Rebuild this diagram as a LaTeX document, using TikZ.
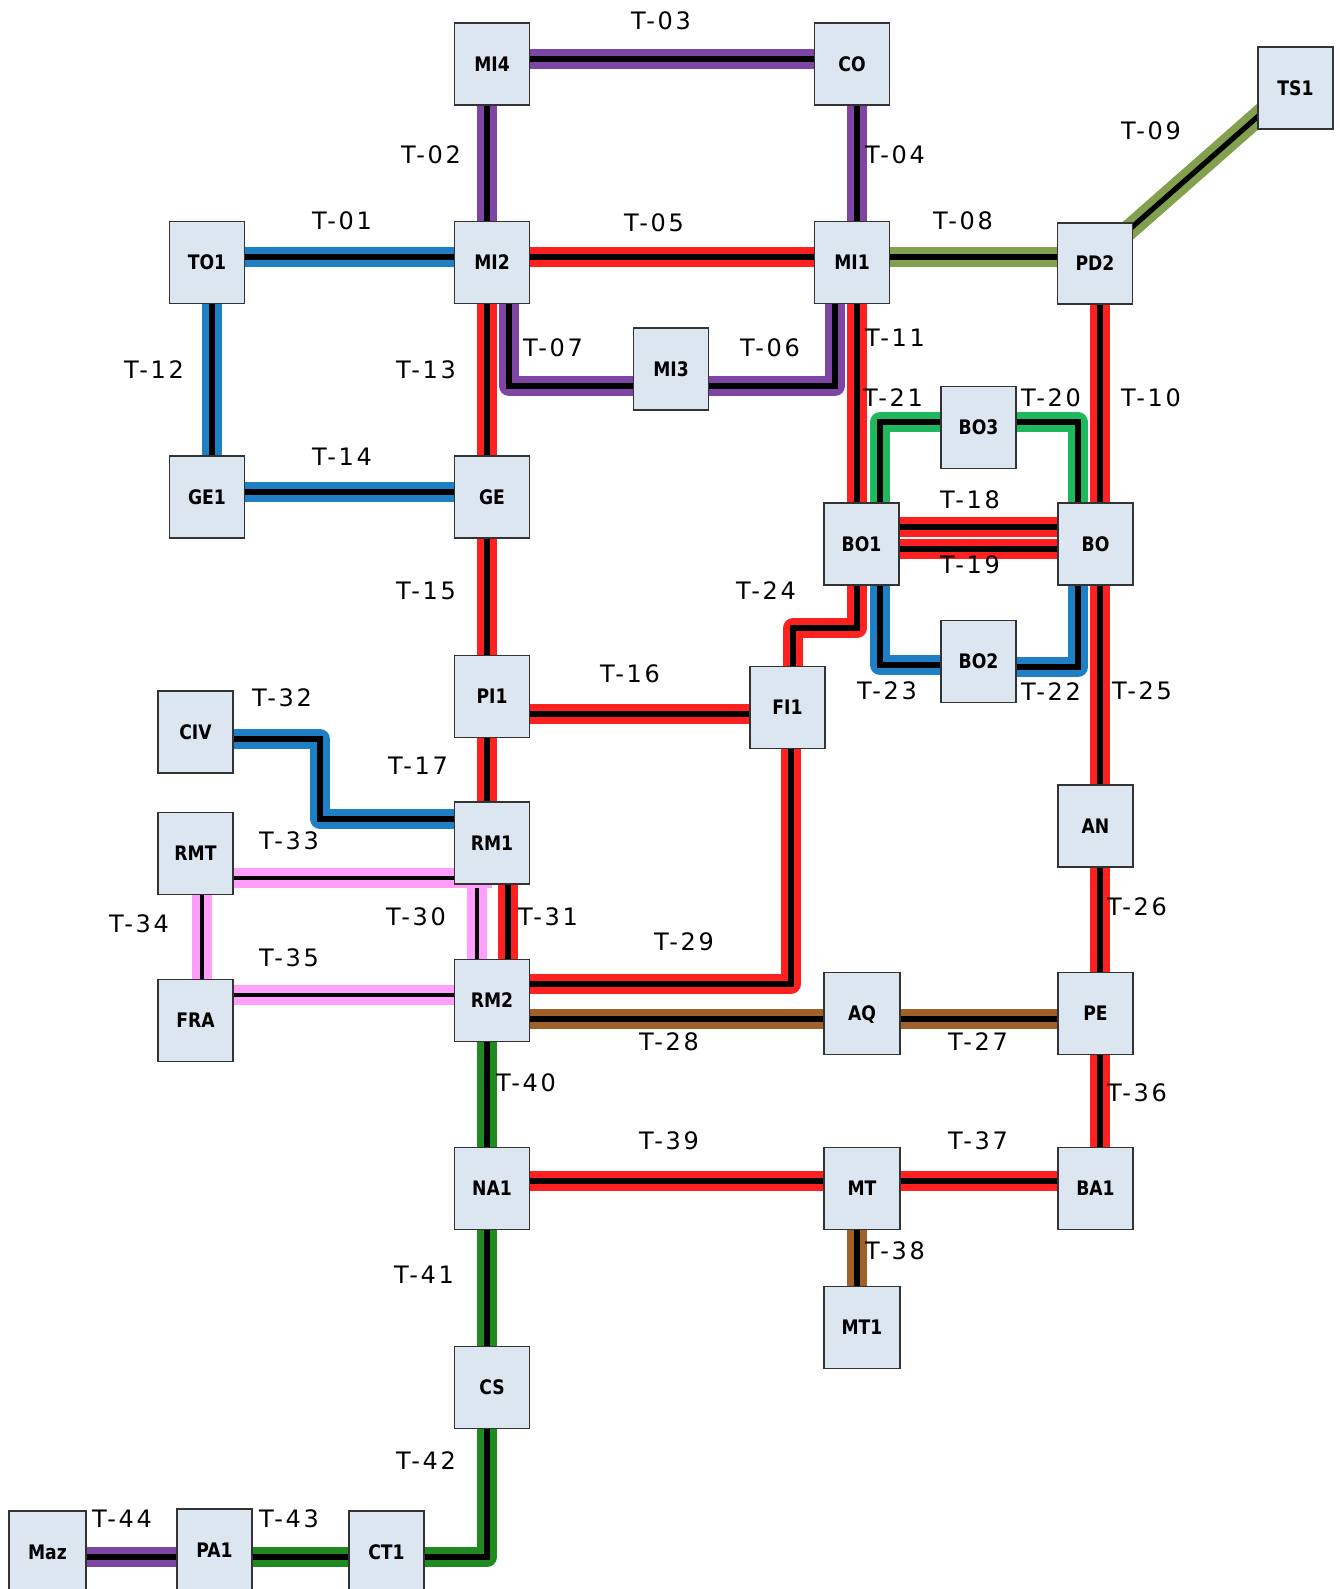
\documentclass[tikz,border=0pt]{standalone}
\usepackage{fontspec}
\usetikzlibrary{backgrounds}
\newfontfamily\labfont[LetterSpace=11]{DejaVu Sans}
\newfontfamily\stnfont[FakeStretch=0.86]{DejaVu Sans Bold}
\definecolor{cpurple}{HTML}{7F45A5}
\definecolor{cblue}{HTML}{1F7FC4}
\definecolor{cred}{HTML}{FF2020}
\definecolor{colive}{HTML}{82A04E}
\definecolor{cgreen}{HTML}{1FB85F}
\definecolor{cdgreen}{HTML}{1F8A1F}
\definecolor{cbrown}{HTML}{A0602A}
\definecolor{cpink}{HTML}{FF9FFB}
\definecolor{cbox}{HTML}{DCE6F1}
\definecolor{cedge}{HTML}{333333}
\tikzset{
  station/.style={draw=cedge,line width=1.6pt,fill=cbox,minimum width=75pt,minimum height=82pt,inner sep=0pt,
    text height=14.6pt,text depth=0pt,font=\stnfont\fontsize{20}{20}\selectfont},
  lab/.style={inner sep=0pt,font=\labfont\fontsize{24}{24}\selectfont},
  wire/.style={draw=black,line width=5.2pt,line join=miter,line cap=butt,
    preaction={draw=#1,line width=20pt,line join=round}},
  thinwire/.style={draw=black,line width=3.5pt,line join=miter,line cap=butt,
    preaction={draw=#1,line width=20pt,line join=round}},
}
\begin{document}
\begin{tikzpicture}[x=1pt,y=-1pt]
\clip (0,0) rectangle (1340,1589);
\useasboundingbox (0,0) rectangle (1340,1589);
% stations
\node[station] (MI4) at (492,64) {MI4};
\node[station] (CO) at (852,64) {CO};
\node[station] (TS1) at (1295.5,88) {TS1};
\node[station] (TO1) at (207,262.5) {TO1};
\node[station] (MI2) at (492,262.5) {MI2};
\node[station] (MI1) at (852,262.5) {MI1};
\node[station,minimum height=81pt] (PD2) at (1095,263.5) {PD2};
\node[station] (MI3) at (671,369) {MI3};
\node[station] (BO3) at (978.5,427.5) {BO3};
\node[station] (GE1) at (207,497) {GE1};
\node[station] (GE) at (492,497) {GE};
\node[station] (BO1) at (861.5,544) {BO1};
\node[station] (BO) at (1095.5,544) {BO};
\node[station] (BO2) at (978.5,661.5) {BO2};
\node[station] (PI1) at (492,696.5) {PI1};
\node[station] (FI1) at (787.5,707.5) {FI1};
\node[station] (CIV) at (195.5,732) {CIV};
\node[station] (AN) at (1095.5,826) {AN};
\node[station] (RMT) at (195.5,853.5) {RMT};
\node[station] (RM1) at (492,843) {RM1};
\node[station] (RM2) at (492,1000.5) {RM2};
\node[station] (FRA) at (195.5,1020.5) {FRA};
\node[station,minimum width=76pt] (AQ) at (862,1013.5) {AQ};
\node[station] (PE) at (1095.5,1013.5) {PE};
\node[station] (NA1) at (492,1188.5) {NA1};
\node[station,minimum width=76pt] (MT) at (862,1188.5) {MT};
\node[station] (BA1) at (1095.5,1188.5) {BA1};
\node[station,minimum width=76pt] (MT1) at (862,1327.5) {MT1};
\node[station] (CS) at (492,1387.5) {CS};
\node[station,minimum width=77pt] (Maz) at (47.5,1552) {Maz};
\node[station] (PA1) at (214.5,1550) {PA1};
\node[station] (CT1) at (386.5,1552) {CT1};
% free corners of connectors
\coordinate (p09a) at (1110,246.5);
\coordinate (p09b) at (1280,97);
\coordinate (c30a) at (460,878);
\coordinate (c30b) at (477,878);
% connectors
\begin{scope}[on background layer]
\fill[white] (0,0) rectangle (1340,1589);
\draw[wire=cblue] (TO1 |- 0,257) -- (MI2 |- 0,257);
\draw[wire=cpurple] (487,0 |- MI4) -- (487,0 |- MI2);
\draw[wire=cpurple] (MI4 |- 0,59) -- (CO |- 0,59);
\draw[wire=cpurple] (857,0 |- CO) -- (857,0 |- MI1);
\draw[wire=cred] (MI2 |- 0,257) -- (MI1 |- 0,257);
\draw[wire=cpurple] (835,0 |- MI1) -- (835,386) -- (MI3 |- 0,386);
\draw[wire=cpurple] (509,0 |- MI2) -- (509,386) -- (MI3 |- 0,386);
\draw[wire=colive] (MI1 |- 0,257) -- (PD2 |- 0,257);
\draw[wire=colive] (p09a) -- (p09b);
\draw[wire=cred] (1100,0 |- PD2) -- (1100,0 |- BO);
\draw[wire=cred] (857,0 |- MI1) -- (857,0 |- BO1);
\draw[wire=cblue] (212,0 |- TO1) -- (212,0 |- GE1);
\draw[wire=cred] (487,0 |- MI2) -- (487,0 |- GE);
\draw[wire=cblue] (GE1 |- 0,492) -- (GE |- 0,492);
\draw[wire=cred] (487,0 |- GE) -- (487,0 |- PI1);
\draw[wire=cred] (PI1 |- 0,714) -- (FI1 |- 0,714);
\draw[wire=cred] (487,0 |- PI1) -- (487,0 |- RM1);
\draw[wire=cred] (BO1 |- 0,527) -- (BO |- 0,527);
\draw[wire=cred] (BO1 |- 0,549) -- (BO |- 0,549);
\draw[wire=cgreen] (BO3 |- 0,422) -- (1078,422) -- (1078,0 |- BO);
\draw[wire=cgreen] (BO3 |- 0,422) -- (880,422) -- (880,0 |- BO1);
\draw[wire=cblue] (BO2 |- 0,667) -- (1078,667) -- (1078,0 |- BO);
\draw[wire=cblue] (BO2 |- 0,665) -- (880,665) -- (880,0 |- BO1);
\draw[wire=cred] (857,0 |- BO1) -- (857,628) -- (793,628) -- (793,0 |- FI1);
\draw[wire=cred] (1100,0 |- BO) -- (1100,0 |- AN);
\draw[wire=cred] (1100,0 |- AN) -- (1100,0 |- PE);
\draw[wire=cbrown] (AQ |- 0,1019) -- (PE |- 0,1019);
\draw[wire=cbrown] (RM2 |- 0,1019) -- (AQ |- 0,1019);
\draw[wire=cred] (RM2 |- 0,984) -- (791,984) -- (791,0 |- FI1);
\draw[thinwire=cpink] (c30a) -- (c30b) -- (c30b |- RM2);
\draw[wire=cred] (508,0 |- RM1) -- (508,0 |- RM2);
\draw[wire=cblue] (CIV |- 0,739) -- (320,739) -- (320,819) -- (RM1 |- 0,819);
\draw[thinwire=cpink] (RMT |- 0,878) -- (RM1 |- 0,878);
\draw[thinwire=cpink] (202,0 |- RMT) -- (202,0 |- FRA);
\draw[thinwire=cpink] (FRA |- 0,995) -- (RM2 |- 0,995);
\draw[wire=cred] (1100,0 |- PE) -- (1100,0 |- BA1);
\draw[wire=cred] (MT |- 0,1181) -- (BA1 |- 0,1181);
\draw[wire=cbrown] (857,0 |- MT) -- (857,0 |- MT1);
\draw[wire=cred] (NA1 |- 0,1181) -- (MT |- 0,1181);
\draw[wire=cdgreen] (487,0 |- RM2) -- (487,0 |- NA1);
\draw[wire=cdgreen] (487,0 |- NA1) -- (487,0 |- CS);
\draw[wire=cdgreen] (487,0 |- CS) -- (487,1557) -- (CT1 |- 0,1557);
\draw[wire=cdgreen] (PA1 |- 0,1557) -- (CT1 |- 0,1557);
\draw[wire=cpurple] (Maz |- 0,1557) -- (PA1 |- 0,1557);
\end{scope}
% labels
\node[lab] (l01) at (342,221) {T-01};
\node[lab] (l02) at (431,155) {T-02};
\node[lab] (l03) at (661,21) {T-03};
\node[lab] (l04) at (895,155) {T-04};
\node[lab] (l05) at (654,223) {T-05};
\node[lab] (l06) at (770,348) {T-06};
\node[lab] (l07) at (553,348) {T-07};
\node[lab] (l08) at (963,221) {T-08};
\node[lab] (l09) at (1151,131) {T-09};
\node[lab] (l10) at (1151,398) {T-10};
\node[lab] (l11) at (895,338) {T-11};
\node[lab] (l12) at (154,370) {T-12};
\node[lab] (l13) at (426,370) {T-13};
\node[lab] (l14) at (342,457) {T-14};
\node[lab] (l15) at (426,591) {T-15};
\node[lab] (l16) at (630,674) {T-16};
\node[lab] (l17) at (418,766) {T-17};
\node[lab] (l18) at (970,500) {T-18};
\node[lab] (l19) at (970,565) {T-19};
\node[lab] (l20) at (1051,398) {T-20};
\node[lab] (l21) at (893,398) {T-21};
\node[lab] (l22) at (1051,692) {T-22};
\node[lab] (l23) at (887,691) {T-23};
\node[lab] (l24) at (766,591) {T-24};
\node[lab] (l25) at (1142,691) {T-25};
\node[lab] (l26) at (1137,907) {T-26};
\node[lab] (l27) at (978,1042) {T-27};
\node[lab] (l28) at (669,1042) {T-28};
\node[lab] (l29) at (684,942) {T-29};
\node[lab] (l30) at (416,917) {T-30};
\node[lab] (l31) at (548,917) {T-31};
\node[lab] (l32) at (282,698) {T-32};
\node[lab] (l33) at (289,841) {T-33};
\node[lab] (l34) at (139,924) {T-34};
\node[lab] (l35) at (289,958) {T-35};
\node[lab] (l36) at (1137,1093) {T-36};
\node[lab] (l37) at (978,1141) {T-37};
\node[lab] (l38) at (895,1251) {T-38};
\node[lab] (l39) at (669,1141) {T-39};
\node[lab] (l40) at (526,1083) {T-40};
\node[lab] (l41) at (424,1275) {T-41};
\node[lab] (l42) at (426,1461) {T-42};
\node[lab] (l43) at (289,1519) {T-43};
\node[lab] (l44) at (122,1519) {T-44};
\end{tikzpicture}
\end{document}
